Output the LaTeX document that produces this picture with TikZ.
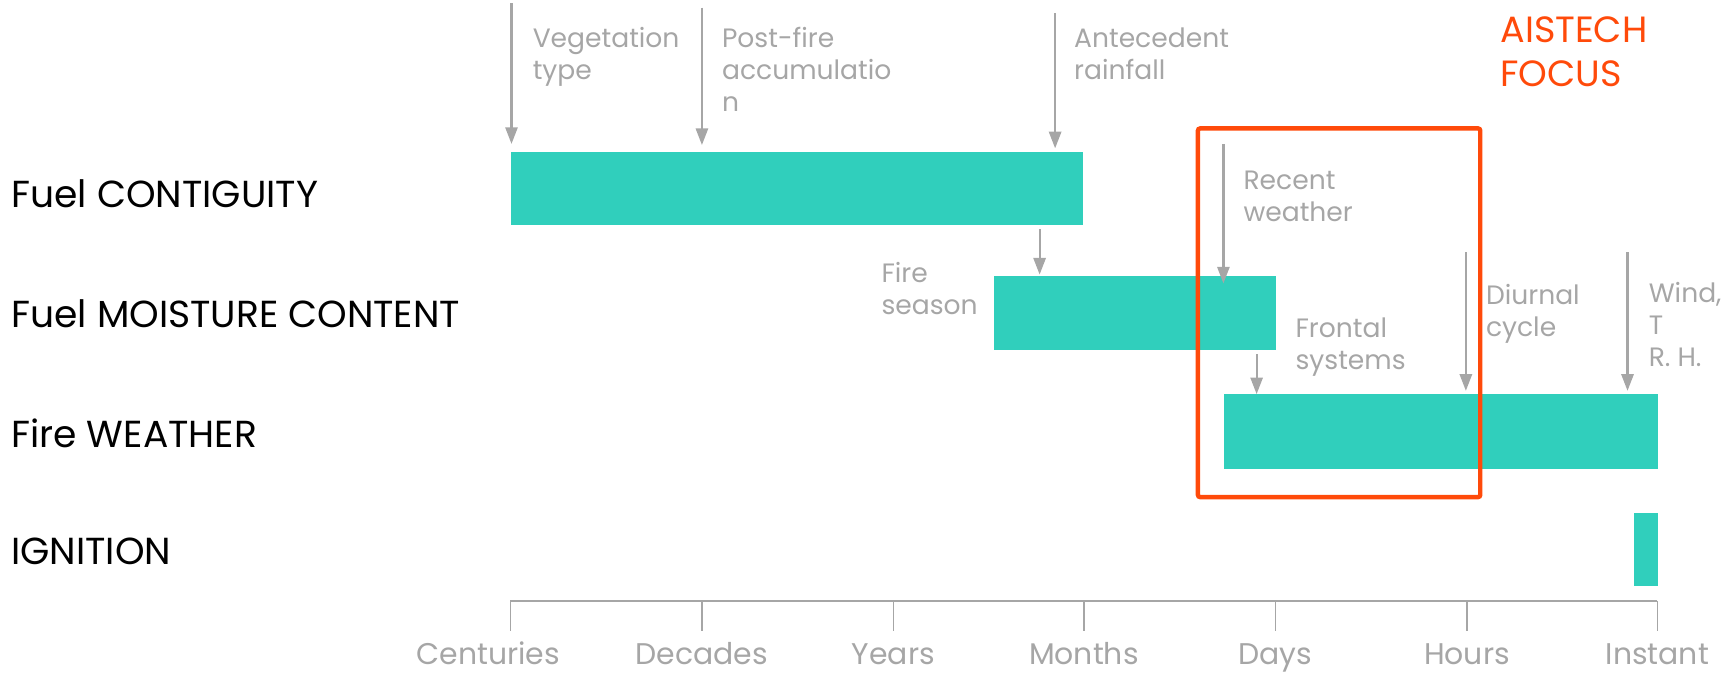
\documentclass[tikz,border=0pt]{standalone}
\usepackage{fontspec}
\setmainfont{Poppins}
\usetikzlibrary{positioning,arrows.meta}

\definecolor{barteal}{HTML}{30CFBC}
\definecolor{notegrey}{HTML}{A6A6A6}
\definecolor{focusred}{HTML}{FF4A0A}

\tikzset{
  bar/.style={fill=barteal, draw=none, inner sep=0pt, anchor=north west},
  rowlabel/.style={font=\fontsize{34}{40}\selectfont, anchor=west, inner sep=0pt},
  note/.style={font=\fontsize{24}{29}\selectfont, text=notegrey, align=left, anchor=north west, inner sep=0pt},
  timelabel/.style={font=\fontsize{27}{30}\selectfont, text=notegrey, inner sep=0pt, anchor=base},
  driver/.style={draw=notegrey, line width=2pt, -{Triangle[length=15pt,width=11pt]}},
  axisline/.style={draw=notegrey, line width=2pt},
  tickline/.style={draw=notegrey, line width=1.2pt},
  focusbox/.style={draw=focusred, line width=4pt, rounded corners=2pt, inner sep=0pt, anchor=north west},
}

\begin{document}
\begin{tikzpicture}[x=1pt,y=-1pt]
  \useasboundingbox (0,0) rectangle (1568,607);

  % rows
  \node[rowlabel] (l_contig) at (10,175) {Fuel CONTIGUITY};
  \node[rowlabel] (l_moist) at (10,283) {Fuel MOISTURE CONTENT};
  \node[rowlabel] (l_weather) at (10,391) {Fire WEATHER};
  \node[rowlabel] (l_ignition) at (10,498) {IGNITION};

  \node[bar, minimum width=517pt, minimum height=66pt] (contig) at (461,137) {};
  \node[bar, minimum width=254pt, minimum height=67pt] (moist) at (898,249) {};
  \node[bar, minimum width=392pt, minimum height=67pt] (weather) at (1105,356) {};
  \node[bar, minimum width=21pt, minimum height=66pt] (ignition) at (1476,463) {};

  % time axis
  \draw[axisline] (461,543) -- (1497,543);
  \foreach \x in {461,634,807,979,1152,1325,1497}
    \draw[tickline] (\x,543) -- (\x,570);
  \foreach \x/\name/\lab in {441/cent/Centuries, 634/dec/Decades, 807/yr/Years,
      979/mon/Months, 1152/day/Days, 1325/hr/Hours, 1497/now/Instant}
    \node[timelabel] (t_\name) at (\x,600) {\lab};

  % drivers
  \coordinate (veg) at (462,3);
  \coordinate (post) at (634,7);
  \coordinate (ante) at (953,12);
  \coordinate (season) at (939,207);
  \coordinate (recent) at (1105,130);
  \coordinate (frontal) at (1135,320);
  \coordinate (diurnal) at (1324,228);
  \coordinate (wind) at (1470,228);

  \node[note] (n_veg) at (481,24.5) {Vegetation\\type};
  \node[note] (n_post) at (652,24.5) {Post-fire\\accumulatio\\n};
  \node[note] (n_ante) at (970,24.5) {Antecedent\\rainfall};
  \node[note] (n_season) at (796,236.5) {Fire\\season};
  \node[note] (n_recent) at (1123,154.5) {Recent\\weather};
  \node[note] (n_frontal) at (1170,286.5) {Frontal\\systems};
  \node[note] (n_diurnal) at (1342,256.5) {Diurnal\\cycle};
  \node[note] (n_wind) at (1489,254.5) {Wind,\\T\\R. H.};

  \draw[driver, shorten >=7pt] (veg) -- (veg |- contig.north);
  \draw[driver, shorten >=6pt] (post) -- (post |- contig.north);
  \draw[driver, shorten >=3pt] (ante) -- (ante |- contig.north);
  \draw[driver, shorten >=1pt] (season) -- (season |- moist.north);
  \draw[driver, shorten >=-7pt] (recent) -- (recent |- moist.north);
  \draw[driver] (frontal) -- (frontal |- weather.north);
  \draw[driver, shorten >=3pt] (diurnal) -- (diurnal |- weather.north);
  \draw[driver, shorten >=3pt] (wind) -- (wind |- weather.north);

  % focus
  \node[focusbox, minimum width=255pt, minimum height=333pt] (focus) at (1080,114) {};
  \node[note, text=focusred, font=\fontsize{33}{40}\selectfont] (n_focus) at (1355,15) {AISTECH\\FOCUS};
\end{tikzpicture}
\end{document}
